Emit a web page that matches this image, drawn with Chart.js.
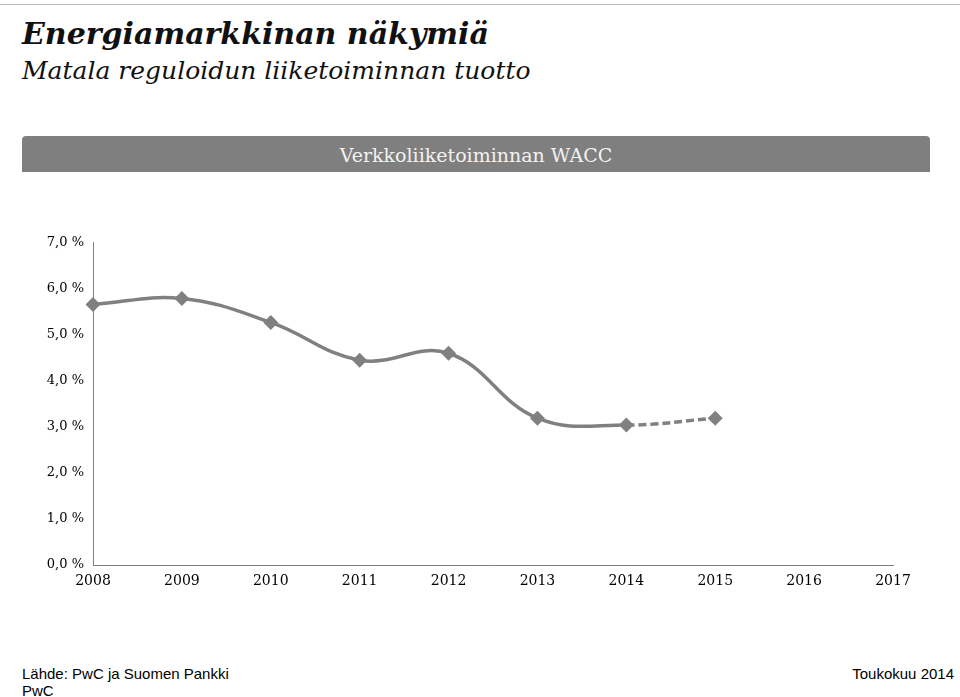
<!DOCTYPE html>
<html><head><meta charset="utf-8">
<script src="https://cdn.jsdelivr.net/npm/chart.js@4/dist/chart.umd.min.js"></script>
<style>
body{margin:0;width:960px;height:697px;background:#fff;position:relative;overflow:hidden}
#t1{position:absolute;left:22px;top:16px;font:bold italic 30px "DejaVu Serif",serif;color:#111}
#t2{position:absolute;left:22px;top:56px;font:italic 25px "DejaVu Serif",serif;color:#111}
#band{position:absolute;left:22px;top:136px;width:908px;height:36px;background:#7f7f7f;border-radius:4px 4px 0 0;color:#f2f2f2;font:19px "DejaVu Serif",serif;text-align:center;line-height:38px}
#topline{position:absolute;left:0;top:4px;width:960px;border-top:1px solid #bbb}
#wrap{position:absolute;left:0;top:232px;width:960px;height:363px}
.f{position:absolute;font:15px "Liberation Sans",Arial,sans-serif;color:#000}
</style></head><body>
<div id="topline"></div>
<div id="t1">Energiamarkkinan näkymiä</div>
<div id="t2">Matala reguloidun liiketoiminnan tuotto</div>
<div id="band">Verkkoliiketoiminnan WACC</div>
<div id="wrap"><canvas id="c"></canvas></div>
<div class="f" style="left:22px;top:665px">Lähde: PwC ja Suomen Pankki</div>
<div class="f" style="left:22px;top:682px">PwC</div>
<div class="f" style="right:6px;top:665px">Toukokuu 2014</div>
<script>
// vuodet ja WACC-arvot (%)
const years = ['2008','2009','2010','2011','2012','2013','2014','2015','2016','2017'];
const wacc = [5.66, 5.79, 5.27, 4.45, 4.60, 3.19, 3.04, 3.19, null, null];
const lastActual = 6; // indeksi 2014, sen jälkeen ennuste (katkoviiva)

new Chart(document.getElementById('c'), {
  type: 'line',
  data: {
    labels: years,
    datasets: [{
      data: wacc,
      borderColor: '#808080',
      backgroundColor: '#808080',
      borderWidth: 3.5,
      tension: 0.4,
      pointStyle: 'rectRot',
      pointRadius: 5,
      pointHoverRadius: 5,
      segment: {
        borderDash: ctx => ctx.p0DataIndex >= lastActual ? [8, 4] : undefined
      }
    }]
  },
  options: {
    responsive: true,
    maintainAspectRatio: false,
    animation: false,
    layout: { padding: { top: 10, right: 67 } },
    plugins: { legend: { display: false }, tooltip: { enabled: false } },
    scales: {
      x: {
        offset: false,
        grid: { display: false, drawTicks: true, tickLength: 6, color: '#808080' },
        border: { color: '#808080' },
        ticks: { color: '#000', font: { family: 'DejaVu Serif', size: 14 }, maxRotation: 0, padding: 2 },
        afterFit: s => { s.height = 30; }
      },
      y: {
        min: 0, max: 7,
        grid: { display: false, drawTicks: true, tickLength: 6, color: '#808080' },
        border: { color: '#808080' },
        ticks: { stepSize: 1, color: '#000', font: { family: 'DejaVu Serif', size: 13 },
          callback: v => v.toFixed(1).replace('.', ',') + ' %' },
        afterFit: s => { s.width = 93; }
      }
    }
  }
});
</script>
</body></html>
